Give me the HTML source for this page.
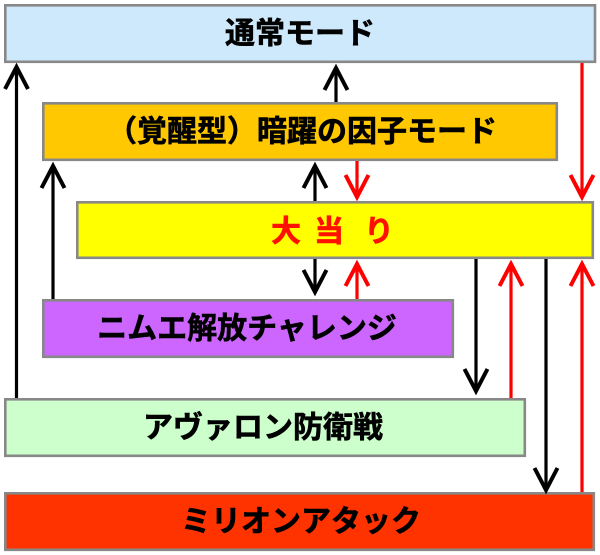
<!DOCTYPE html>
<html>
<head>
<meta charset="utf-8">
<style>
html,body{margin:0;padding:0;background:#fff;}
svg{display:block;}
text{font-family:"Liberation Sans","Noto Sans CJK JP",sans-serif;font-weight:bold;font-size:30px;stroke-width:0.6px;}
</style>
</head>
<body>
<svg width="600" height="555" viewBox="0 0 600 555" xmlns="http://www.w3.org/2000/svg">
  <rect x="0" y="0" width="600" height="555" fill="#fff"/>
  <!-- boxes -->
  <g stroke="#888" stroke-width="2.6">
    <rect x="5.3" y="5.3" width="589.7" height="56.5" fill="#cde9fb"/>
    <rect x="43.3" y="103.3" width="513.5" height="56.5" fill="#ffc800"/>
    <rect x="77.3" y="202.3" width="515.5" height="55.5" fill="#ffff00"/>
    <rect x="43.3" y="300.3" width="409.5" height="56.5" fill="#cc66ff"/>
    <rect x="5.3" y="399.3" width="519.5" height="56.5" fill="#ccffcc"/>
    <rect x="5.3" y="493.3" width="588.5" height="56.5" fill="#ff3300"/>
  </g>

  <!-- labels -->
  <text x="300" y="34" text-anchor="middle" dominant-baseline="central" fill="#000" stroke="#000">通常モード</text>
  <text x="302" y="132" text-anchor="middle" dominant-baseline="central" fill="#000" stroke="#000">（覚醒型）暗躍の因子モード</text>
  <text x="286" y="232" text-anchor="middle" dominant-baseline="central" fill="#ff1000" stroke="#ff1000">大</text>
  <text x="329" y="232" text-anchor="middle" dominant-baseline="central" fill="#ff1000" stroke="#ff1000">当</text>
  <text x="379" y="232" text-anchor="middle" dominant-baseline="central" fill="#ff1000" stroke="#ff1000">り</text>
  <text x="247" y="329" text-anchor="middle" dominant-baseline="central" fill="#000" stroke="#000">ニムエ解放チャレンジ</text>
  <text x="263" y="428" text-anchor="middle" dominant-baseline="central" fill="#000" stroke="#000">アヴァロン防衛戦</text>
  <text x="301" y="522" text-anchor="middle" dominant-baseline="central" fill="#000" stroke="#000">ミリオンアタック</text>

  <!-- black arrows -->
  <g stroke="#000" fill="none" stroke-width="3.2">
    <line x1="16.5" y1="398" x2="16.5" y2="68"/>
    <polyline points="5,89 16.5,67 28,89" stroke-width="4"/>
    <line x1="53" y1="299" x2="53" y2="166"/>
    <polyline points="41.5,188 53,166 64.5,188" stroke-width="4"/>
    <line x1="336" y1="102" x2="336" y2="69"/>
    <polyline points="324.5,90 336,68 347.5,90" stroke-width="4"/>
    <line x1="315" y1="201" x2="315" y2="167"/>
    <polyline points="303.5,188 315,166 326.5,188" stroke-width="4"/>
    <line x1="315" y1="259" x2="315" y2="290"/>
    <polyline points="303.5,270 315,292 326.5,270" stroke-width="4"/>
    <line x1="476" y1="259" x2="476" y2="389"/>
    <polyline points="464.5,369 476,391 487.5,369" stroke-width="4"/>
    <line x1="546" y1="259" x2="546" y2="488"/>
    <polyline points="534.5,468 546,490 557.5,468" stroke-width="4"/>
  </g>

  <!-- red arrows -->
  <g stroke="#ff0000" fill="none" stroke-width="3.2">
    <line x1="357" y1="161" x2="357" y2="195"/>
    <polyline points="345.5,175 357,197 368.5,175" stroke-width="4"/>
    <line x1="582" y1="63" x2="582" y2="195"/>
    <polyline points="570.5,175 582,197 593.5,175" stroke-width="4"/>
    <line x1="357" y1="299" x2="357" y2="265"/>
    <polyline points="345.5,286 357,264 368.5,286" stroke-width="4"/>
    <line x1="511" y1="398" x2="511" y2="265"/>
    <polyline points="499.5,286 511,264 522.5,286" stroke-width="4"/>
    <line x1="582" y1="492" x2="582" y2="265"/>
    <polyline points="570.5,286 582,264 593.5,286" stroke-width="4"/>
  </g>
</svg>
</body>
</html>
